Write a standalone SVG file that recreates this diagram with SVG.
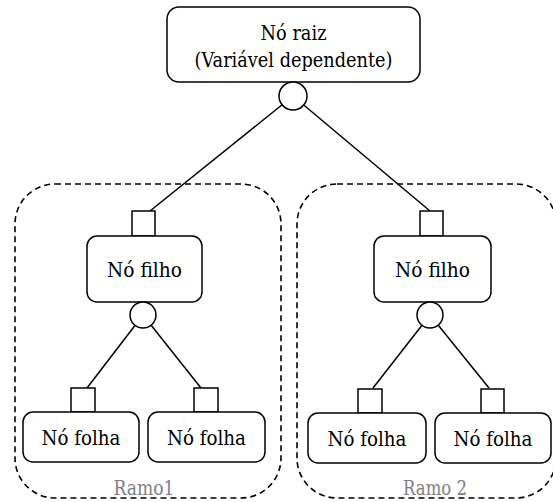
<svg xmlns="http://www.w3.org/2000/svg" width="553" height="502" viewBox="0 0 553 502">
<style>
.box{fill:#fff;stroke:#000;stroke-width:1.5}
.sq{fill:#fff;stroke:#000;stroke-width:1.5}
.c{fill:#fff;stroke:#000;stroke-width:1.5}
.grp{fill:none;stroke:#000;stroke-width:1.6;stroke-dasharray:6 4}
text{font-family:"DejaVu Serif","Noto Serif",serif}
.t{font-size:21px;fill:#000;text-anchor:middle}
.g{font-size:20px;fill:#7f7f7f;text-anchor:middle}
line{stroke:#000;stroke-width:1.5}
</style>
<rect fill="#fff" width="553" height="502"/>
<g id="ramo1">
<rect class="grp" x="15" y="184" width="266" height="314" rx="40"/>
<text class="g" x="144" y="495" textLength="61" lengthAdjust="spacingAndGlyphs">Ramo1</text>
</g>
<g id="ramo2">
<rect class="grp" x="297" y="184" width="259" height="314" rx="40"/>
<text class="g" x="435" y="495" textLength="64" lengthAdjust="spacingAndGlyphs">Ramo 2</text>
</g>
<g id="connectors">
<line x1="293" y1="96" x2="150" y2="211"/>
<line x1="293" y1="96" x2="430" y2="211"/>
<line x1="143" y1="315" x2="87" y2="388"/>
<line x1="143" y1="315" x2="201" y2="388"/>
<line x1="430" y1="315" x2="373" y2="388"/>
<line x1="430" y1="315" x2="489" y2="388"/>
</g>
<g id="root">
<rect class="box" x="167" y="7" width="253" height="75" rx="12"/>
<text class="t" x="293.5" y="40" textLength="66" lengthAdjust="spacingAndGlyphs">Nó raiz</text>
<text class="t" x="293.5" y="67" textLength="198" lengthAdjust="spacingAndGlyphs">(Variável dependente)</text>
<circle class="c" cx="293" cy="96" r="14"/>
</g>
<g id="filho1">
<rect class="sq" x="132" y="211" width="23" height="25"/>
<rect class="box" x="87" y="236" width="115" height="66" rx="10"/>
<text class="t" x="144.5" y="277" textLength="75" lengthAdjust="spacingAndGlyphs">Nó filho</text>
<circle class="c" cx="143" cy="315" r="13"/>
</g>
<g id="filho2">
<rect class="sq" x="420" y="211" width="23" height="25"/>
<rect class="box" x="374" y="236" width="117" height="66" rx="10"/>
<text class="t" x="432.5" y="277" textLength="75" lengthAdjust="spacingAndGlyphs">Nó filho</text>
<circle class="c" cx="430" cy="315" r="13"/>
</g>
<g id="folha1">
<rect class="sq" x="71" y="388" width="24" height="24"/>
<rect class="box" x="23" y="412" width="116" height="50" rx="10"/>
<text class="t" x="81" y="445" textLength="79" lengthAdjust="spacingAndGlyphs">Nó folha</text>
</g>
<g id="folha2">
<rect class="sq" x="194" y="388" width="24" height="24"/>
<rect class="box" x="148" y="412" width="117" height="50" rx="10"/>
<text class="t" x="206.5" y="445" textLength="79" lengthAdjust="spacingAndGlyphs">Nó folha</text>
</g>
<g id="folha3">
<rect class="sq" x="358" y="389" width="24" height="24"/>
<rect class="box" x="308" y="413" width="118" height="50" rx="10"/>
<text class="t" x="367" y="446" textLength="79" lengthAdjust="spacingAndGlyphs">Nó folha</text>
</g>
<g id="folha4">
<rect class="sq" x="481" y="389" width="23" height="24"/>
<rect class="box" x="435" y="413" width="116" height="50" rx="10"/>
<text class="t" x="493" y="446" textLength="79" lengthAdjust="spacingAndGlyphs">Nó folha</text>
</g>
</svg>
